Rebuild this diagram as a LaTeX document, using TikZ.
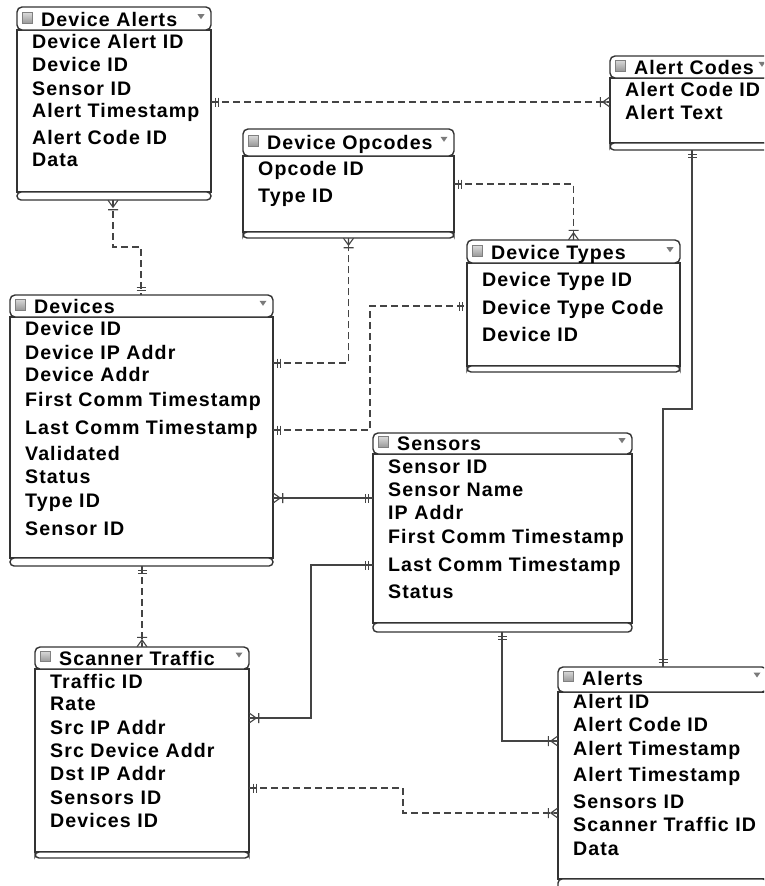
\documentclass[tikz,border=0pt]{standalone}
\usepackage{fontspec}
\setmainfont{Liberation Sans}
\newfontfamily\erfont{Liberation Sans}[LetterSpace=5.5]
\usetikzlibrary{fit}
\definecolor{boxline}{HTML}{333333}
\definecolor{conn}{HTML}{444444}
\definecolor{tri}{HTML}{7A7A7A}
\tikzset{
  x=1pt, y=-1pt,
  frame/.style={draw=boxline, line width=1.4pt, fill=white},
  txt/.style={anchor=base west, inner sep=0pt, font=\erfont\bfseries\fontsize{19.6}{21}\selectfont, text=black},
  link/.style={draw=conn, line width=1.1pt},
  dlink/.style={link, dash pattern=on 7pt off 4pt},
  pics/onebar/.style={code={\draw[draw=conn, line width=1.1pt, solid] (4,-4.5)--(4,4.5) (7,-4.5)--(7,4.5);}},
  pics/crow/.style={code={\draw[draw=conn, line width=1.1pt, solid] (0,-5)--(7,0)--(0,5) (0,0)--(7,0) (9.5,-5)--(9.5,5);}},
}
% name, x1, y1, x2, y2, header bottom, footer top, title, title baseline
\newcommand\erbox[9]{%
  \node[inner sep=0pt, fit={(#2,#3)(#4,#5)}] (#1) {};
  \draw[frame] (#2,#6) rectangle (#4,#7);
  \draw[frame, rounded corners=5pt] (#2,#3) rectangle (#4,#6);
  \draw[frame, rounded corners=4pt] (#2,#7) rectangle (#4,#5);
  \draw[draw=black!50, line width=0.6pt, top color=black!15, bottom color=black!40] (#2+5.5,#9-14) rectangle (#2+15.5,#9-3.5);
  \fill[tri] (#4-13.5,#9-12.5) -- (#4-6.5,#9-12.5) -- (#4-10,#9-7.5) -- cycle;
  \node[txt] (#1-t) at (#2+24,#9) {#8};
}
\newcommand\eritems[3]{% name, x1, list of text/baseline
  \foreach \t/\b [count=\i] in {#3} \node[txt] (#1-\i) at (#2+15,\b) {\t};
}
\begin{document}
\begin{tikzpicture}
\useasboundingbox (0,0) rectangle (764,886);
\clip (0,0) rectangle (764,886);
\fill[white] (0,0) rectangle (764,886);

% entity boxes
\erbox{da}{17}{7}{211}{200}{30}{192}{Device Alerts}{26.7}
\eritems{da}{17}{Device Alert ID/48.3, Device ID/71.7, Sensor ID/95, Alert Timestamp/117.7, Alert Code ID/144.5, Data/166.7}

\erbox{ac}{610}{56}{772}{150}{78}{143}{Alert Codes}{74.3}
\eritems{ac}{610}{Alert Code ID/96, Alert Text/119.3}

\erbox{op}{243}{129}{454}{238}{156}{232}{Device Opcodes}{149.3}
\eritems{op}{243}{Opcode ID/175, Type ID/202.3}

\erbox{dt}{467}{240}{680}{372}{263}{366}{Device Types}{259.7}
\eritems{dt}{467}{Device Type ID/286.7, Device Type Code/314.3, Device ID/341.7}

\erbox{dv}{10}{295}{273}{566}{317}{558}{Devices}{313.3}
\eritems{dv}{10}{Device ID/335.7, Device IP Addr/359, Device Addr/381.7, First Comm Timestamp/406.7, Last Comm Timestamp/434, Validated/460, Status/483.3, Type ID/507.7, Sensor ID/535}

\erbox{se}{373}{433}{632}{632}{454}{623}{Sensors}{450.7}
\eritems{se}{373}{Sensor ID/473.3, Sensor Name/496.7, IP Addr/519.3, First Comm Timestamp/543.3, Last Comm Timestamp/571.7, Status/598.3}

\erbox{st}{35}{647}{249}{858}{669}{852}{Scanner Traffic}{665}
\eritems{st}{35}{Traffic ID/688.3, Rate/710.7, Src IP Addr/734, Src Device Addr/757.3, Dst IP Addr/780.7, Sensors ID/804, Devices ID/827.3}

\erbox{al}{558}{667}{767}{892}{692}{879}{Alerts}{685}
\eritems{al}{558}{Alert ID/708.3, Alert Code ID/731.7, Alert Timestamp/755, Alert Timestamp/781.7, Sensors ID/808.3, Scanner Traffic ID/831.7, Data/855}

% connectors
\draw[dlink] (da.east |- 0,102) -- (ac.west |- 0,102);
\pic at (da.east |- 0,102) {onebar};
\pic[rotate=180] at (ac.west |- 0,102) {crow};

\draw[dlink] (da.south -| 113,0) |- (141,247) -- (dv.north -| 141,0);
\pic[rotate=-90] at (da.south -| 113,0) {crow};
\pic[rotate=90] at (dv.north -| 141,0) {onebar};

\draw[dlink] (dv.east |- 0,363) -| (op.south);
\pic at (dv.east |- 0,363) {onebar};
\pic[rotate=-90] at (op.south) {crow};

\draw[dlink] (op.east |- 0,184) -| (dt.north);
\pic at (op.east |- 0,184) {onebar};
\pic[rotate=90] at (dt.north) {crow};

\draw[dlink] (dv.east |- 0,430) -| (370,306) -- (dt.west |- 0,306);
\pic at (dv.east |- 0,430) {onebar};
\pic[rotate=180] at (dt.west |- 0,306) {onebar};

\draw[link] (dv.east |- 0,498) -- (se.west |- 0,498);
\pic at (dv.east |- 0,498) {crow};
\pic[rotate=180] at (se.west |- 0,498) {onebar};

\draw[dlink] (dv.south -| st.north) -- (st.north);
\pic[rotate=-90] at (dv.south -| st.north) {onebar};
\pic[rotate=90] at (st.north) {crow};

\draw[link] (st.east |- 0,718) -| (311,565) -- (se.west |- 0,565);
\pic at (st.east |- 0,718) {crow};
\pic[rotate=180] at (se.west |- 0,565) {onebar};

\draw[link] (se.south -| 502,0) |- (al.west |- 0,741);
\pic[rotate=-90] at (se.south -| 502,0) {onebar};
\pic[rotate=180] at (al.west |- 0,741) {crow};

\draw[link] (ac.south -| 692,0) |- (663,409) -- (al.north -| 663,0);
\pic[rotate=-90] at (ac.south -| 692,0) {onebar};
\pic[rotate=90] at (al.north -| 663,0) {onebar};

\draw[dlink] (st.east |- 0,788) -| (403,813) -- (al.west |- 0,813);
\pic at (st.east |- 0,788) {onebar};
\pic[rotate=180] at (al.west |- 0,813) {crow};
\end{tikzpicture}
\end{document}
